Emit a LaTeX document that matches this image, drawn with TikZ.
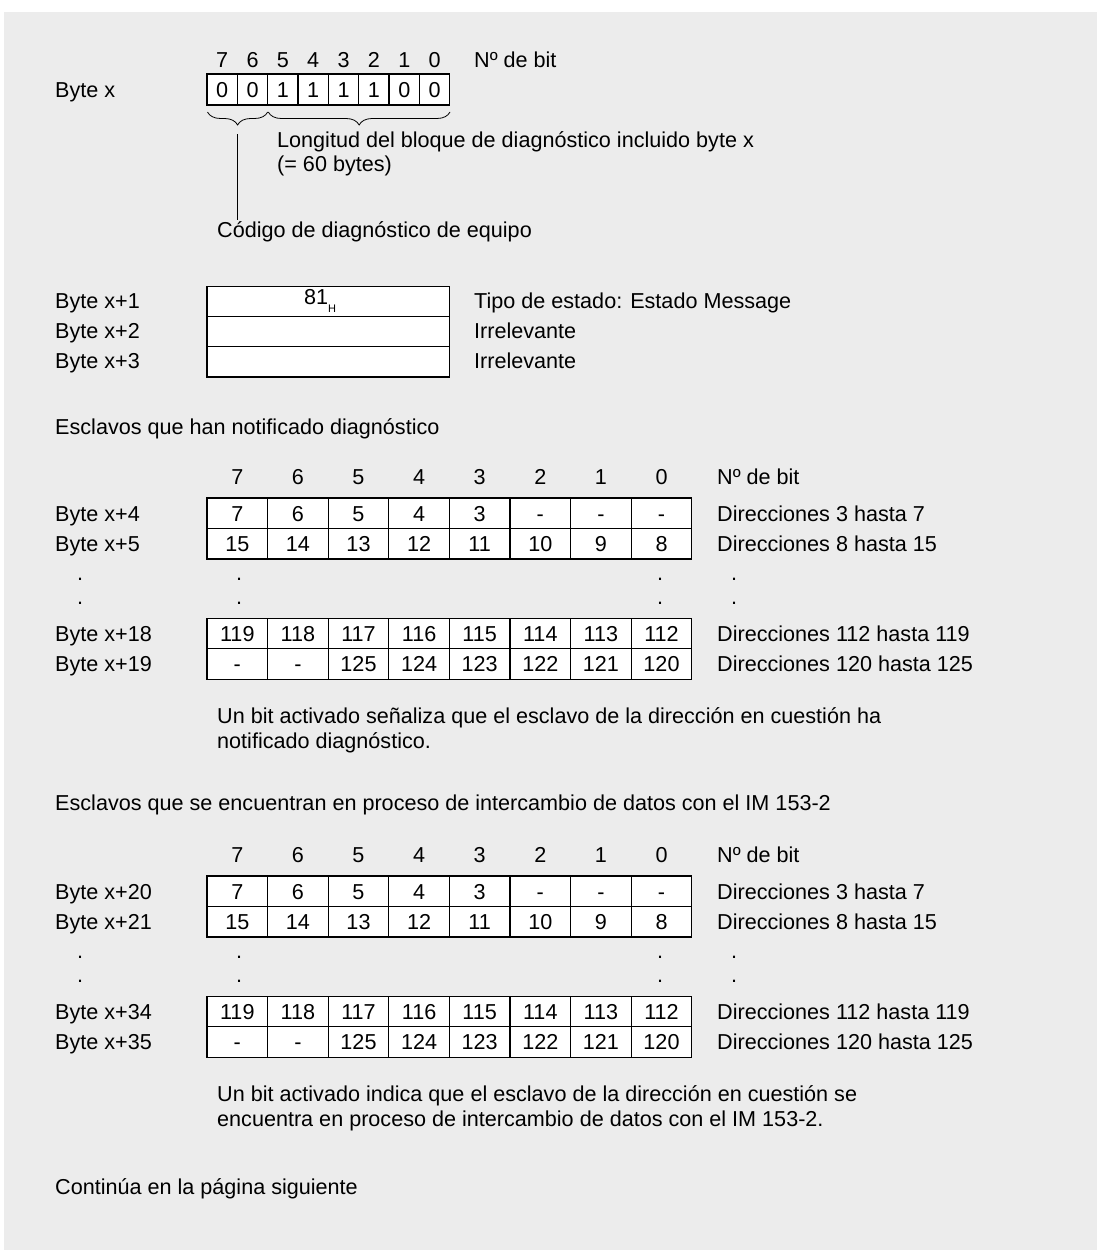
\documentclass[tikz,border=0pt]{standalone}
\usepackage{fontspec}
\setmainfont{Liberation Sans}
\usetikzlibrary{decorations.pathreplacing}
\definecolor{bgc}{HTML}{ECECEC}
\newcommand\myfs{\fontsize{21.6}{26}\selectfont}
\begin{document}
\begin{tikzpicture}[x=1pt,y=-1pt,
  txt/.style={inner sep=0pt, text height=15.5pt, text depth=0pt, anchor=west, font=\myfs},
  ctxt/.style={txt, anchor=center},
  dotn/.style={inner sep=0pt, anchor=base, font=\myfs},
  cell/.style={draw, fill=white, line width=1.3pt, minimum width=60.6pt, minimum height=30.5pt,
    inner sep=0pt, text height=15.5pt, text depth=0pt, font=\myfs},
  scell/.style={cell, minimum width=30.35pt, minimum height=31pt},
  wcell/.style={cell, minimum width=242.6pt, minimum height=30.3pt},
  bracestyle/.style={line width=0.8pt, decorate, decoration={brace, mirror, amplitude=13pt}},
  thin/.style={line width=0.8pt}]
\useasboundingbox (0,0) rectangle (1097,1253);
\fill[bgc] (4,12) rectangle (1097,1250);

% ---------- Byte x ----------
\foreach \d [count=\i from 0] in {7,6,5,4,3,2,1,0}
  \node[ctxt] (hx\i) at ({222.2+30.35*\i},59.7) {\d};
\node[txt] (nbit0) at (474,59.7) {Nº de bit};
\node[txt] (lbx) at (55,89.5) {Byte x};
\foreach \v [count=\i from 0] in {0,0,1,1,1,1,0,0}
  \node[scell] (b\i) at ({222.2+30.35*\i},89.5) {\v};
\coordinate (brA1) at (207.5,112);
\coordinate (brA2) at (267.7,112);
\coordinate (brB1) at (268.3,112);
\coordinate (brB2) at (450,112);
\draw[bracestyle] (brA1) -- (brA2);
\draw[bracestyle] (brB1) -- (brB2);
\node[txt] (longitud) at (277,140) {Longitud del bloque de diagnóstico incluido byte x};
\node[txt] (bytes60) at (277,164) {(= 60 bytes)};
\node[txt] (codigo) at (217,230) {Código de diagnóstico de equipo};
\coordinate (ltip) at (237.8,134);
\draw[thin] (ltip) -- ([yshift=2pt]ltip |- codigo.north);

% ---------- Byte x+1 .. x+3 ----------
\node[txt] (lbx1) at (55,301) {Byte x+1};
\node[txt] (lbx2) at (55,331) {Byte x+2};
\node[txt] (lbx3) at (55,361) {Byte x+3};
\node[wcell] (w1) at (328.3,301.3) {};
\node[wcell] (w2) at (328.3,331.6) {};
\node[wcell] (w3) at (328.3,361.9) {};
\node[txt] (h81) at (304,297) {81\raisebox{-8pt}{\fontsize{11}{11}\selectfont H}};
\node[txt] (tipo) at (474,301) {Tipo de estado: Estado Message};
\node[txt] (irr1) at (474,331) {Irrelevante};
\node[txt] (irr2) at (474,361) {Irrelevante};

% ---------- Table 1 ----------
\node[txt] (esc1) at (55,427) {Esclavos que han notificado diagnóstico};
\foreach \d [count=\i from 0] in {7,6,5,4,3,2,1,0}
  \node[ctxt] (hA\i) at ({237.3+60.6*\i},477) {\d};
\node[txt] (nbitA) at (717,477) {Nº de bit};
\foreach \row/\yy [count=\r] in {{7,6,5,4,3,-,-,-}/513.25,
    {15,14,13,12,11,10,9,8}/543.75,
    {119,118,117,116,115,114,113,112}/634,
    {-,-,125,124,123,122,121,120}/664}
  \foreach \v [count=\c from 0] in \row
    \node[cell] (tA-\r-\c) at ({237.3+60.6*\c},\yy) {\v};
\node[txt] (lA1) at (55,513.25) {Byte x+4};
\node[txt] (lA2) at (55,543.75) {Byte x+5};
\node[txt] (lA3) at (55,634) {Byte x+18};
\node[txt] (lA4) at (55,664) {Byte x+19};
\node[txt] (rA1) at (717,513.25) {Direcciones 3 hasta 7};
\node[txt] (rA2) at (717,543.75) {Direcciones 8 hasta 15};
\node[txt] (rA3) at (717,634) {Direcciones 112 hasta 119};
\node[txt] (rA4) at (717,664) {Direcciones 120 hasta 125};
\foreach \yy [count=\k] in {580,604} {
  \node[dotn] (dAa\k) at (80,\yy) {.};
  \node[dotn] (dAb\k) at (239,\yy) {.};
  \node[dotn] (dAc\k) at (660,\yy) {.};
  \node[dotn] (dAd\k) at (734,\yy) {.};
}
\node[txt] (unA1) at (217,716) {Un bit activado señaliza que el esclavo de la dirección en cuestión ha};
\node[txt] (unA2) at (217,741) {notificado diagnóstico.};

% ---------- Table 2 ----------
\node[txt] (esc2) at (55,803) {Esclavos que se encuentran en proceso de intercambio de datos con el IM 153-2};
\foreach \d [count=\i from 0] in {7,6,5,4,3,2,1,0}
  \node[ctxt] (hB\i) at ({237.3+60.6*\i},855) {\d};
\node[txt] (nbitB) at (717,855) {Nº de bit};
\foreach \row/\yy [count=\r] in {{7,6,5,4,3,-,-,-}/891.25,
    {15,14,13,12,11,10,9,8}/921.75,
    {119,118,117,116,115,114,113,112}/1012,
    {-,-,125,124,123,122,121,120}/1042}
  \foreach \v [count=\c from 0] in \row
    \node[cell] (tB-\r-\c) at ({237.3+60.6*\c},\yy) {\v};
\node[txt] (lB1) at (55,891.25) {Byte x+20};
\node[txt] (lB2) at (55,921.75) {Byte x+21};
\node[txt] (lB3) at (55,1012) {Byte x+34};
\node[txt] (lB4) at (55,1042) {Byte x+35};
\node[txt] (rB1) at (717,891.25) {Direcciones 3 hasta 7};
\node[txt] (rB2) at (717,921.75) {Direcciones 8 hasta 15};
\node[txt] (rB3) at (717,1012) {Direcciones 112 hasta 119};
\node[txt] (rB4) at (717,1042) {Direcciones 120 hasta 125};
\foreach \yy [count=\k] in {958,982} {
  \node[dotn] (dBa\k) at (80,\yy) {.};
  \node[dotn] (dBb\k) at (239,\yy) {.};
  \node[dotn] (dBc\k) at (660,\yy) {.};
  \node[dotn] (dBd\k) at (734,\yy) {.};
}
\node[txt] (unB1) at (217,1094) {Un bit activado indica que el esclavo de la dirección en cuestión se};
\node[txt] (unB2) at (217,1119) {encuentra en proceso de intercambio de datos con el IM 153-2.};

\node[txt] (cont) at (55,1187) {Continúa en la página siguiente};
\end{tikzpicture}
\end{document}
